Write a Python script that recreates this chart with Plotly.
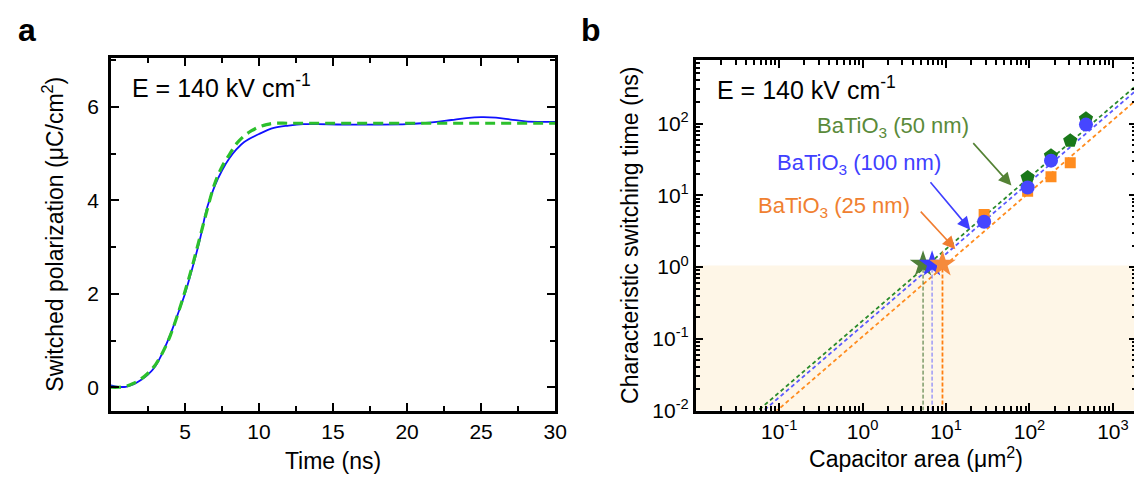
import plotly.graph_objects as go

# panel a: switching transient at E = 140 kV/cm
time_meas = [0, 0.5, 1.0, 1.5, 2.0, 2.5, 3.0, 3.5, 4.0, 4.5, 5.0, 5.5, 6.0, 6.5, 7.0, 7.5,
             8.0, 8.5, 9.0, 10, 11, 12, 13, 14, 16, 18, 20, 21, 22, 23, 24, 25, 26, 27, 28, 29, 30]
pol_meas = [0.04, 0.01, 0.01, 0.06, 0.15, 0.27, 0.45, 0.75, 1.12, 1.55, 2.0, 2.55, 3.15, 3.85, 4.3, 4.64,
            4.9, 5.1, 5.25, 5.42, 5.55, 5.6, 5.63, 5.63, 5.62, 5.62, 5.63, 5.65, 5.68, 5.72, 5.76, 5.78,
            5.77, 5.73, 5.69, 5.68, 5.68]
time_fit = [0, 0.5, 1, 1.5, 2, 2.5, 3, 3.5, 4, 4.5, 5, 5.5, 6, 6.5, 7, 7.5, 8, 8.5, 9, 9.5, 10, 10.5, 11, 12, 14, 30]
pol_fit = [0.0, 0.0, 0.02, 0.08, 0.17, 0.3, 0.48, 0.75, 1.1, 1.55, 2.05, 2.6, 3.2, 3.8, 4.35, 4.72,
           4.98, 5.22, 5.38, 5.49, 5.57, 5.62, 5.65, 5.65, 5.65, 5.65]

# panel b: characteristic switching time vs capacitor area
area_50 = [95, 181, 308, 475]
tau_50 = [17.7, 35.6, 57.8, 117]
area_100 = [28.6, 95, 181, 475]
tau_100 = [4.3, 12.9, 30.5, 97]
area_25 = [28.6, 95, 181, 308]
tau_25 = [5.4, 11.4, 18.2, 28.4]

fit_area = [0.01, 2000]
fit_50 = [0.00179, 357]
fit_100 = [0.00153, 306]
fit_25 = [0.00105, 225]

star_area = [5.3, 6.8, 9.06]
star_tau = [1.1, 1.1, 1.1]

GREEN, BLUE, ORANGE = "#1e7d1e", "#4646ff", "#ff8c1f"
FONT = "Liberation Sans, Arial, sans-serif"

# tick positions
minor_time = [2.5 * i for i in range(1, 12)]
minor_pol = [i for i in range(0, 8) if i % 2 == 1]
minor_log = [m * 10.0 ** k for k in range(-2, 4) for m in range(2, 10)]

fig = go.Figure()

fig.add_trace(go.Scatter(x=time_meas, y=pol_meas, mode="lines", line=dict(color="#1010ff", width=1.8, shape="spline"),
                         xaxis="x", yaxis="y"))
fig.add_trace(go.Scatter(x=time_fit, y=pol_fit, mode="lines",
                         line=dict(color="#2cc02c", width=3.2, dash="10px,6px", shape="spline"),
                         xaxis="x", yaxis="y"))

# fit lines
for fy, c in [(fit_50, "#2a8a2a"), (fit_100, "#5a5aff"), (fit_25, "#ff8c1f")]:
    fig.add_trace(go.Scatter(x=fit_area, y=fy, mode="lines", line=dict(color=c, width=1.8, dash="4px,3px"),
                             xaxis="x2", yaxis="y2"))

# vertical drop lines from stars
for a, c, w in zip(star_area, ["#3c6e2c", "#6a6aff", "#ff7f10"], [1, 1, 1.8]):
    fig.add_trace(go.Scatter(x=[a, a], y=[0.01, 1.0], mode="lines", line=dict(color=c, width=w, dash="4px,2px"),
                             xaxis="x2", yaxis="y2"))

fig.add_trace(go.Scatter(x=area_25, y=tau_25, mode="markers", marker=dict(symbol="square", size=11, color=ORANGE),
                         xaxis="x2", yaxis="y2"))
fig.add_trace(go.Scatter(x=area_50, y=tau_50, mode="markers", marker=dict(symbol="pentagon", size=15, color="#197819"),
                         xaxis="x2", yaxis="y2"))
fig.add_trace(go.Scatter(x=area_100, y=tau_100, mode="markers", marker=dict(symbol="circle", size=14, color=BLUE),
                         xaxis="x2", yaxis="y2"))
fig.add_trace(go.Scatter(x=star_area, y=star_tau, mode="markers",
                         marker=dict(symbol="star", size=20, color=["#4f7f3a", "#3a3aff", "#f58a3c"]),
                         xaxis="x2", yaxis="y2"))

axis_common = dict(showline=True, linecolor="black", linewidth=2.5, mirror="allticks", ticks="inside",
                   ticklen=8, tickwidth=2, tickcolor="black", showgrid=False, zeroline=False,
                   tickfont=dict(size=21, color="black", family=FONT))
title_font = dict(size=23, color="black", family=FONT)


def minor(vals):
    return dict(tickmode="array", tickvals=vals, ticks="inside", ticklen=5, tickwidth=2,
                tickcolor="black", showgrid=False)


fig.update_layout(
    width=1142, height=483, margin=dict(l=0, r=0, t=0, b=0),
    paper_bgcolor="white", plot_bgcolor="white", showlegend=False,
    font=dict(family=FONT, color="black"),
    xaxis=dict(axis_common, domain=[0.0911, 0.4842], range=[0, 30], tickvals=[5, 10, 15, 20, 25, 30],
               minor=minor(minor_time),
               title=dict(text="Time (ns)", font=title_font, standoff=12), anchor="y"),
    yaxis=dict(axis_common, domain=[0.147, 0.8944], range=[-0.5, 7.05], tickvals=[0, 2, 4, 6],
               minor=minor(minor_pol), ticklabelstandoff=5,
               title=dict(text="Switched polarization (\u03bcC/cm<sup>2</sup>)", font=title_font, standoff=18),
               anchor="x"),
    xaxis2=dict(axis_common, domain=[0.6086, 0.9985], type="log", range=[-2, 3.28],
                tickvals=[0.1, 1, 10, 100, 1000],
                ticktext=["10<sup>-1</sup>", "10<sup>0</sup>", "10<sup>1</sup>", "10<sup>2</sup>", "10<sup>3</sup>"],
                minor=minor(minor_log),
                title=dict(text="Capacitor area (\u03bcm<sup>2</sup>)", font=title_font, standoff=10), anchor="y2"),
    yaxis2=dict(axis_common, domain=[0.147, 0.8903], type="log", range=[-2, 2.89],
                tickvals=[0.01, 0.1, 1, 10, 100],
                ticktext=["10<sup>-2</sup>", "10<sup>-1</sup>", "10<sup>0</sup>", "10<sup>1</sup>", "10<sup>2</sup>"],
                minor=minor(minor_log),
                title=dict(text="Characteristic switching time (ns)", font=title_font, standoff=8), anchor="x2"),
)

# sub-ns shaded region
fig.add_shape(type="rect", xref="x2 domain", yref="y2", x0=0, x1=1, y0=0.01, y1=1.05,
              fillcolor="#fef6e7", line=dict(width=0), layer="below")

ann = []
ann.append(dict(text="<b>a</b>", xref="paper", yref="paper", x=0.007, y=0.995, xanchor="left", yanchor="top",
                showarrow=False, font=dict(size=32, color="black")))
ann.append(dict(text="<b>b</b>", xref="paper", yref="paper", x=0.505, y=0.995, xanchor="left", yanchor="top",
                showarrow=False, font=dict(size=32, color="black")))
ann.append(dict(text="E = 140 kV cm<sup>-1</sup>", xref="paper", yref="paper", x=0.108, y=0.834,
                xanchor="left", yanchor="middle", showarrow=False, font=dict(size=25, color="black")))
ann.append(dict(text="E = 140 kV cm<sup>-1</sup>", xref="paper", yref="paper", x=0.626, y=0.830,
                xanchor="left", yanchor="middle", showarrow=False, font=dict(size=25, color="black")))

labels = [("BaTiO<sub>3</sub> (50 nm)", "#5a8a3a", 0.364, 1.954),
          ("BaTiO<sub>3</sub> (100 nm)", "#4040ff", -0.038, 1.431),
          ("BaTiO<sub>3</sub> (25 nm)", "#f08030", -0.345, 0.841)]
for t, c, lx, ly in labels:
    ann.append(dict(text=t, xref="x2", yref="y2", x=lx, y=ly, showarrow=False, font=dict(size=22, color=c)))

arrows = [("#548235", 1.31, 1.749, 1.783, 1.136),
          ("#3f3fff", 0.798, 1.204, 1.29, 0.522),
          ("#f07d30", 0.68, 0.795, 1.112, 0.25)]
for c, tx, ty, hx, hy in arrows:
    ann.append(dict(x=hx, y=hy, ax=tx, ay=ty, xref="x2", yref="y2", axref="x2", ayref="y2", text="",
                    showarrow=True, arrowhead=2, arrowsize=1.6, arrowwidth=1.6, arrowcolor=c))

fig.update_layout(annotations=ann)

fig.write_html("out.html")
